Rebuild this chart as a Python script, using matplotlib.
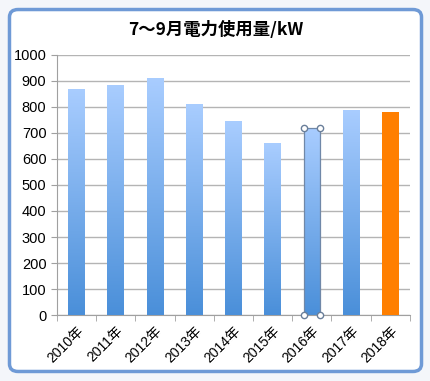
import matplotlib.pyplot as plt
import numpy as np
from matplotlib.patches import FancyBboxPatch
from matplotlib.colors import LinearSegmentedColormap

plt.rcParams["font.family"] = ["Liberation Sans", "Noto Sans CJK JP"]

# the chart data
years = ["2010年", "2011年", "2012年", "2013年", "2014年", "2015年", "2016年", "2017年", "2018年"]
usage = [870, 885, 910, 810, 745, 660, 720, 790, 780]
highlight = "2018年"
selected = "2016年"

fig = plt.figure(figsize=(4.31, 3.81), dpi=100)
fig.patch.set_facecolor("#f4f6fa")

# rounded blue frame of the chart area
frame = FancyBboxPatch((0.022, 0.025), 0.956, 0.95, boxstyle="round,pad=0,rounding_size=0.02",
                       transform=fig.transFigure, facecolor="white", edgecolor="#6f9ad6",
                       linewidth=2.5, zorder=-5)
fig.patches.append(frame)

ax = fig.add_axes([0.132, 0.173, 0.819, 0.683])
ax.set_facecolor("none")

x = np.arange(len(years))
w = 0.42
bars = ax.bar(x, usage, width=w, color="none", edgecolor="none", zorder=2)

# vertical gradient, light blue on top, darker at the bottom
grad = np.linspace(0, 1, 256).reshape(-1, 1)
cmap = LinearSegmentedColormap.from_list("bl", ["#4a8fd9", "#a9cdff"])
for b, yr in zip(bars, years):
    x0, y0 = b.get_x(), b.get_y()
    x1, y1 = x0 + b.get_width(), y0 + b.get_height()
    if yr == highlight:
        ax.bar(b.get_x() + b.get_width() / 2, b.get_height(), width=w, color="#ff7f00", zorder=3)
        continue
    im = ax.imshow(grad, extent=[x0, x1, y0, y1], origin="lower", cmap=cmap,
                   aspect="auto", zorder=3)
    im.set_clip_path(b)
    if yr == selected:
        ax.bar(b.get_x() + b.get_width() / 2, b.get_height(), width=w, color="none",
               edgecolor="#7088a8", linewidth=0.9, zorder=4)
        ax.plot([x0, x1, x0, x1], [y1, y1, y0, y0], "o", ms=4.5, mfc="white",
                mec="#6a7f9a", mew=1.0, zorder=5, clip_on=False)

ax.set_xlim(-0.5, len(years) - 0.5)
ax.set_ylim(0, 1000)
ax.set_yticks(np.arange(0, 1001, 100))
ax.set_xticks(x)
ax.set_xticklabels(years, rotation=45, ha="right", rotation_mode="anchor", fontsize=10)
ax.set_xticks(np.arange(-0.5, len(years), 1), minor=True)
ax.tick_params(axis="x", which="major", length=0, pad=6)
ax.tick_params(axis="x", which="minor", length=4, color="#a0a0a0")
ax.tick_params(axis="y", length=4, color="#a0a0a0", labelsize=10.5)
ax.yaxis.grid(True, color="#b4b4b4", linewidth=1.0)
ax.set_axisbelow(True)
for s in ["top", "right"]:
    ax.spines[s].set_visible(False)
ax.spines["left"].set_color("#a0a0a0")
ax.spines["bottom"].set_color("#a0a0a0")

fig.text(0.5, 0.92, "7～9月電力使用量/kW", ha="center", va="center", fontsize=12.5,
         fontweight="bold", family=["Noto Sans CJK JP", "DejaVu Sans"])

fig.savefig("out.png", dpi=100)
